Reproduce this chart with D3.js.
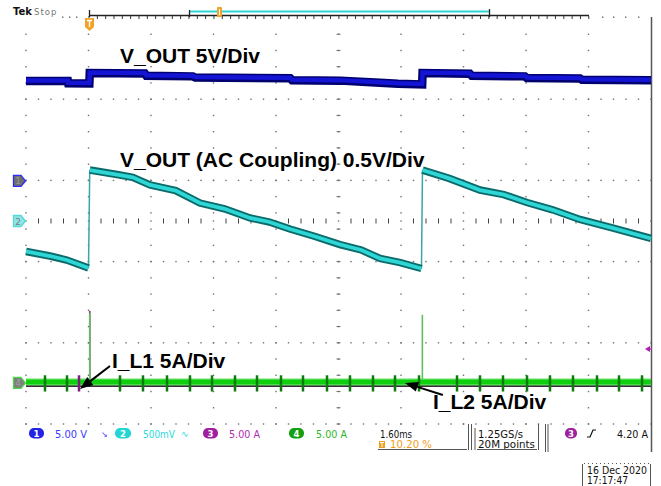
<!DOCTYPE html>
<html><head><meta charset="utf-8">
<script src="https://cdn.jsdelivr.net/npm/d3@7"></script>
<style>html,body{margin:0;padding:0;background:#fff;}svg{display:block;}</style>
</head><body>
<svg id="c" width="661" height="486"></svg>
<script>
// ---------- acquisition settings ----------
const MS_PER_DIV = 1.6;            // 1.60 ms / div
const TRIG_PCT = 0.102;            // trigger at 10.20 %
const T_START = -10 * MS_PER_DIV * TRIG_PCT;
const T_END = T_START + 10 * MS_PER_DIV;

// channel scales (units per div) and positions (div)
const CH1_SCALE = 5, CH1_POS = 0.79;     // V_OUT 5 V/div
const CH2_SCALE = 500, CH2_POS = 0;      // V_OUT AC 500 mV/div
const CH4_SCALE = 5, CH4_POS = -3.19;    // I_L 5 A/div
const CH3_TRIG_DIV = -2.52;

// ---------- waveform data (time ms, value) ----------
const ch1 = [[-1.632,9.84],[-0.56,9.84],[-0.55,9.62],[-0.01,9.60],[0.0,10.63],[1.41,10.58],[1.45,10.36],
  [2.64,10.30],[2.70,10.19],[5.13,10.12],[5.18,9.92],[6.41,9.88],[7.43,9.68],[7.89,9.58],[8.51,9.50],
  [8.52,10.63],[9.73,10.56],[9.78,10.35],[11.14,10.30],[11.19,10.14],[12.55,10.10],[12.60,9.96],[14.368,9.92]];

const ch2 = [[-1.632,-300],[-1.018,-345],[-0.590,-384],[-0.032,-463],[0.0,502],[0.698,458],[1.10,430],
  [1.542,355],[2.20,300],[2.822,177],[3.45,120],[4.102,30],[4.60,-10],[5.126,-79],[5.75,-150],[6.406,-232],
  [6.95,-285],[7.430,-369],[7.95,-410],[8.492,-468],[8.518,502],[9.20,420],[9.990,305],[10.60,260],
  [11.194,182],[11.85,110],[12.550,15],[13.40,-70],[14.368,-172]];

const ch4 = [[-1.632,0.05],[14.368,0.05]];
const ch4Edges = [[0.0,7.0],[8.515,6.8]];          // current spikes at switching edges (A)
const ch3Edges = [[0.0,7.1]];
const ch4Glitches = [-1.146,-0.582,0.774,1.363,1.978,2.566,3.130,3.718,4.282,4.896,5.459,6.074,
  6.662,7.251,7.814,8.429,9.402,9.990,10.579,11.194,11.782,12.371,12.986,13.549,14.138];
const ch3Glitches = [-0.275];

// ---------- readout text ----------
const chLabels = ["1","2","3","4"];
const chReadouts = ["5.00 V","500mV","5.00 A","5.00 A"];
const horizReadout = ["1.60ms","10.20 %"];
const acqReadout = ["1.25GS/s","20M points"];
const trigReadout = "4.20 A";
const dateReadout = ["16 Dec  2020","17:17:47"];
const annotations = ["V_OUT 5V/Div","V_OUT (AC Coupling) 0.5V/Div","I_L1 5A/Div","I_L2 5A/Div"];

// ---------- scales ----------
const svg = d3.select('#c');
const x = d3.scaleLinear().domain([T_START, T_END]).range([26, 651]);
const yDiv = d3.scaleLinear().domain([-4, 4]).range([424, 18]);
const y1 = v => yDiv(v / CH1_SCALE + CH1_POS);
const y2 = v => yDiv(v / CH2_SCALE + CH2_POS);
const y4 = v => yDiv(v / CH4_SCALE + CH4_POS);

// ---------- graticule ----------
const grid = svg.append('g');
const DOT = '#707070';
const colIdx = d3.range(0, 10);
const minorT = d3.range(0, 51).map(i => T_START + i * MS_PER_DIV / 5);
const minorDiv = d3.range(1, 26).map(i => 4 - i * 0.32);
const rowDiv = [2.4, 0.8, -0.8, -2.4, -4];
colIdx.forEach(k => {
  const t = T_START + k * MS_PER_DIV;
  minorDiv.forEach(d => {
    grid.append('rect').attr('x', x(t) - 0.7).attr('y', yDiv(d) - 0.7)
      .attr('width', 1.4).attr('height', 1.4).attr('fill', DOT);
    if (k === 5) grid.append('line').attr('x1', x(t) - 2).attr('x2', x(t) + 2)
      .attr('y1', yDiv(d)).attr('y2', yDiv(d)).attr('stroke', DOT).attr('stroke-width', 1);
  });
});
rowDiv.forEach(d => {
  minorT.forEach(t => grid.append('rect').attr('x', x(t) - 0.7).attr('y', yDiv(d) - 0.7)
    .attr('width', 1.4).attr('height', 1.4).attr('fill', DOT));
});
minorT.forEach((t, i) => {
  if (i % 5 === 0) grid.append('rect').attr('x', x(t) - 0.7).attr('y', yDiv(0) - 0.7)
    .attr('width', 1.4).attr('height', 1.4).attr('fill', DOT);
  else grid.append('line').attr('x1', x(t)).attr('x2', x(t)).attr('y1', yDiv(0) - 2.5)
    .attr('y2', yDiv(0) + 2.5).attr('stroke', '#444').attr('stroke-width', 1);
});
// right border
svg.append('line').attr('x1', 651.5).attr('x2', 651.5).attr('y1', 17).attr('y2', 452)
  .attr('stroke', '#555').attr('stroke-width', 1.5);

// ---------- top record bar ----------
const topG = svg.append('g');
topG.append('text').attr('x', 13).attr('y', 15).attr('font-family', 'DejaVu Sans')
  .attr('font-weight', 'bold').attr('font-size', 10).attr('fill', '#111').text('Tek');
topG.append('text').attr('x', 34).attr('y', 15).attr('font-family', 'DejaVu Sans')
  .attr('font-size', 8.5).attr('fill', '#777').attr('letter-spacing', 1).text('Stop');
[62, 69, 76, 602, 613, 625, 638].forEach(px => topG.append('rect').attr('x', px).attr('y', 16.5)
  .attr('width', 1.4).attr('height', 1.4).attr('fill', '#666'));
topG.append('line').attr('x1', 89).attr('x2', 589).attr('y1', 15.5).attr('y2', 15.5)
  .attr('stroke', '#222').attr('stroke-width', 1.3);
d3.range(89, 590, 8.33).forEach(px => topG.append('line').attr('x1', px).attr('x2', px)
  .attr('y1', 16).attr('y2', 19).attr('stroke', '#333').attr('stroke-width', 1));
topG.append('line').attr('x1', 190).attr('x2', 489).attr('y1', 11.5).attr('y2', 11.5)
  .attr('stroke', '#2fd4d4').attr('stroke-width', 2);
[[89.5, 10], [189.5, 10], [489.5, 9]].forEach(([px, y0]) => topG.append('line')
  .attr('x1', px).attr('x2', px).attr('y1', y0).attr('y2', 17).attr('stroke', '#222').attr('stroke-width', 1.3));
topG.append('rect').attr('x', 217).attr('y', 7).attr('width', 5).attr('height', 10).attr('rx', 1)
  .attr('fill', '#f2a22a');
topG.append('line').attr('x1', 219.5).attr('x2', 219.5).attr('y1', 9).attr('y2', 15).attr('stroke', '#fff').attr('stroke-width', 1);
topG.append('path').attr('d', 'M85,18 H94 V27 L89.5,31 L85,27 Z').attr('fill', '#f2a22a');
topG.append('path').attr('d', 'M87,20.5 H92 M89.5,20.5 V27').attr('stroke', '#fff').attr('stroke-width', 1.3);

// ---------- waveforms ----------
const line = (yf) => d3.line().x(d => x(d[0])).y(d => yf(d[1]));

// channel 1
svg.append('path').attr('d', line(y1)(ch1)).attr('fill', 'none').attr('stroke', '#00006e')
  .attr('stroke-width', 8.5);
svg.append('path').attr('d', line(y1)(ch1)).attr('fill', 'none').attr('stroke', '#1414d4')
  .attr('stroke-width', 4.5).attr('transform', 'translate(0,-0.5)');

// channel 2 (split at vertical edges)
const segs = [[ch2[0]]], edges = [];
for (let i = 1; i < ch2.length; i++) {
  if (ch2[i][0] - ch2[i - 1][0] < 0.05) { edges.push([ch2[i - 1], ch2[i]]); segs.push([ch2[i]]); }
  else segs[segs.length - 1].push(ch2[i]);
}
edges.forEach(e => svg.append('path').attr('d', line(y2)(e)).attr('fill', 'none')
  .attr('stroke', '#3aa6a6').attr('stroke-width', 1.5));
segs.forEach(s => {
  svg.append('path').attr('d', line(y2)(s)).attr('fill', 'none').attr('stroke', '#0b6a6a')
    .attr('stroke-width', 7.5);
  svg.append('path').attr('d', line(y2)(s)).attr('fill', 'none').attr('stroke', '#2ed6d6')
    .attr('stroke-width', 3.8);
});

// channel 3 / 4 spikes at switching edges
ch3Edges.forEach(d => svg.append('line').attr('x1', x(d[0])).attr('x2', x(d[0]))
  .attr('y1', y4(0)).attr('y2', y4(d[1])).attr('stroke', '#8a2a8a').attr('stroke-width', 1.6));
ch4Edges.forEach(d => svg.append('line').attr('x1', x(d[0])).attr('x2', x(d[0]))
  .attr('y1', y4(0)).attr('y2', y4(d[1] - 0.1)).attr('stroke', '#5fbf5f').attr('stroke-width', 1.6));

// channel 4 band
svg.append('path').attr('d', line(y4)(ch4)).attr('fill', 'none').attr('stroke', '#3a2a3a')
  .attr('stroke-width', 3).attr('transform', 'translate(0,3)');
svg.append('path').attr('d', line(y4)(ch4)).attr('fill', 'none').attr('stroke', '#5fe05f')
  .attr('stroke-width', 7).attr('transform', 'translate(0,-0.5)');
svg.append('path').attr('d', line(y4)(ch4)).attr('fill', 'none').attr('stroke', '#0fcf0f')
  .attr('stroke-width', 4.5).attr('transform', 'translate(0,-0.5)');
ch3Glitches.forEach(t => svg.append('line').attr('x1', x(t)).attr('x2', x(t))
  .attr('y1', y4(-0.85)).attr('y2', y4(0.75)).attr('stroke', '#7a207a').attr('stroke-width', 2.5));
ch4Glitches.forEach(t => svg.append('line').attr('x1', x(t)).attr('x2', x(t))
  .attr('y1', y4(-0.85)).attr('y2', y4(0.75)).attr('stroke', '#0c7a0c').attr('stroke-width', 2.5));

// ---------- channel markers (left) ----------
function marker(yc, fill, stroke, label, tcol) {
  const gm = svg.append('g');
  gm.append('path').attr('d', `M13.5,${yc - 5.5} H21 L25.5,${yc} L21,${yc + 5.5} H13.5 Z`)
    .attr('fill', fill).attr('stroke', stroke).attr('stroke-width', 1.3);
  gm.append('text').attr('x', 18).attr('y', yc + 3.5).attr('text-anchor', 'middle')
    .attr('font-family', 'DejaVu Sans').attr('font-size', 9).attr('fill', tcol).text(label);
}
marker(yDiv(CH1_POS), '#6e6e6e', '#2a2aff', chLabels[0], '#9a9a9a');
marker(yDiv(CH2_POS), '#8fe6e6', '#55d8d8', chLabels[1], '#708080');
marker(yDiv(CH4_POS), '#7e7e7e', '#44dd44', chLabels[3], '#a0a0a0');
// ch3 trigger level marker (right)
const ty = yDiv(CH3_TRIG_DIV);
svg.append('path').attr('d', `M645,${ty} L650,${ty - 3} V${ty + 3} Z`).attr('fill', '#b020b0');
svg.append('line').attr('x1', 647).attr('x2', 652).attr('y1', ty).attr('y2', ty)
  .attr('stroke', '#b020b0').attr('stroke-width', 1.2);

// ---------- annotations ----------
const ann = svg.append('g').attr('font-family', 'Liberation Sans, Arial, sans-serif')
  .attr('font-weight', 'bold').attr('font-size', 21).attr('fill', '#000');
ann.append('text').attr('x', x(0.774)).attr('y', y1(11.6)).text(annotations[0]);
ann.append('text').attr('x', x(0.774)).attr('y', y2(533)).text(annotations[1]);
ann.append('text').attr('x', x(0.57)).attr('y', y4(1.5)).text(annotations[2]);
ann.append('text').attr('x', x(8.787)).attr('y', y4(-2.55)).text(annotations[3]);
function arrow(x0, y0, x1, y1_) {
  const a = Math.atan2(y1_ - y0, x1 - x0), L = 13, W = 5;
  const bx = x1 - L * Math.cos(a), by = y1_ - L * Math.sin(a);
  svg.append('line').attr('x1', x0).attr('y1', y0).attr('x2', bx).attr('y2', by)
    .attr('stroke', '#000').attr('stroke-width', 2);
  svg.append('path').attr('d', `M${x1},${y1_} L${bx - W * Math.sin(a)},${by + W * Math.cos(a)} L${bx + W * Math.sin(a)},${by - W * Math.cos(a)} Z`)
    .attr('fill', '#000');
}
arrow(x(0.518), y4(1.66), x(-0.250), y4(-0.6));
arrow(x(9.04), y4(-1.19), x(8.07), y4(0.0));

// ---------- bottom readout ----------
const ro = svg.append('g').attr('font-family', 'DejaVu Sans').attr('font-size', 10);
function pill(x0, w, fill, label) {
  ro.append('rect').attr('x', x0).attr('y', 428).attr('width', w).attr('height', 10.5).attr('rx', 5)
    .attr('fill', fill);
  ro.append('text').attr('x', x0 + w / 2).attr('y', 436.5).attr('text-anchor', 'middle')
    .attr('font-size', 8.5).attr('font-weight', 'bold').attr('fill', '#fff').text(label);
}
function rtext(x0, y0, w, col, s) {
  ro.append('text').attr('x', x0).attr('y', y0).attr('textLength', w)
    .attr('lengthAdjust', 'spacingAndGlyphs').attr('fill', col).text(s);
}
pill(29, 15, '#2323e6', chLabels[0]); rtext(55, 438, 32, '#3a3aff', chReadouts[0]);
ro.append('text').attr('x', 101).attr('y', 437).attr('font-size', 8).attr('fill', '#3a3aff').text('\u2198');
pill(115, 16, '#22d6d6', chLabels[1]); rtext(143, 438, 32, '#2ed8e0', chReadouts[1]);
ro.append('text').attr('x', 181).attr('y', 437).attr('font-size', 9).attr('fill', '#2ed8e0').text('\u223F');
pill(203, 15, '#a01fa0', chLabels[2]); rtext(229, 438, 31, '#b02cb0', chReadouts[2]);
pill(289, 15, '#12a012', chLabels[3]); rtext(316, 438, 31, '#2cb82c', chReadouts[3]);
rtext(380, 438, 32, '#111', horizReadout[0]);
ro.append('rect').attr('x', 379).attr('y', 441).attr('width', 6).attr('height', 7).attr('fill', '#f0a020');
ro.append('path').attr('d', 'M380,442.5 H384 M382,442.5 V447').attr('stroke', '#fff').attr('stroke-width', 1);
rtext(390, 448, 42, '#f0a020', horizReadout[1]);
rtext(478, 438, 45, '#111', acqReadout[0]);
rtext(478, 448, 57, '#111', acqReadout[1]);
pill(565, 12, '#a01fa0', chLabels[2]);
ro.append('path').attr('d', 'M587,437 H590 L593,430 H596').attr('fill', 'none').attr('stroke', '#111').attr('stroke-width', 1.2);
rtext(617, 438, 31, '#111', trigReadout);
const fr = svg.append('g').attr('stroke', '#555').attr('stroke-width', 1);
[[378, 467, 449.5], [477, 537, 449.5]].forEach(([a, b, yy]) => fr.append('line')
  .attr('x1', a).attr('x2', b).attr('y1', yy).attr('y2', yy));
[[468.5, 424, 450], [471.5, 424, 450], [475, 428, 450], [538.5, 424, 450], [545.5, 424, 452], [548, 424, 452]]
  .forEach(([xx, a, b]) => fr.append('line').attr('x1', xx).attr('x2', xx).attr('y1', a).attr('y2', b));
// date box
[[582.5, 464, 486], [650.5, 464, 486]].forEach(([xx, a, b]) => fr.append('line')
  .attr('x1', xx).attr('x2', xx).attr('y1', a).attr('y2', b));
fr.append('line').attr('x1', 584).attr('x2', 649).attr('y1', 463.5).attr('y2', 463.5).attr('stroke-dasharray', '1,3');
rtext(587, 474, 60, '#111', dateReadout[0]);
rtext(587, 484, 41, '#111', dateReadout[1]);
</script>
</body></html>
